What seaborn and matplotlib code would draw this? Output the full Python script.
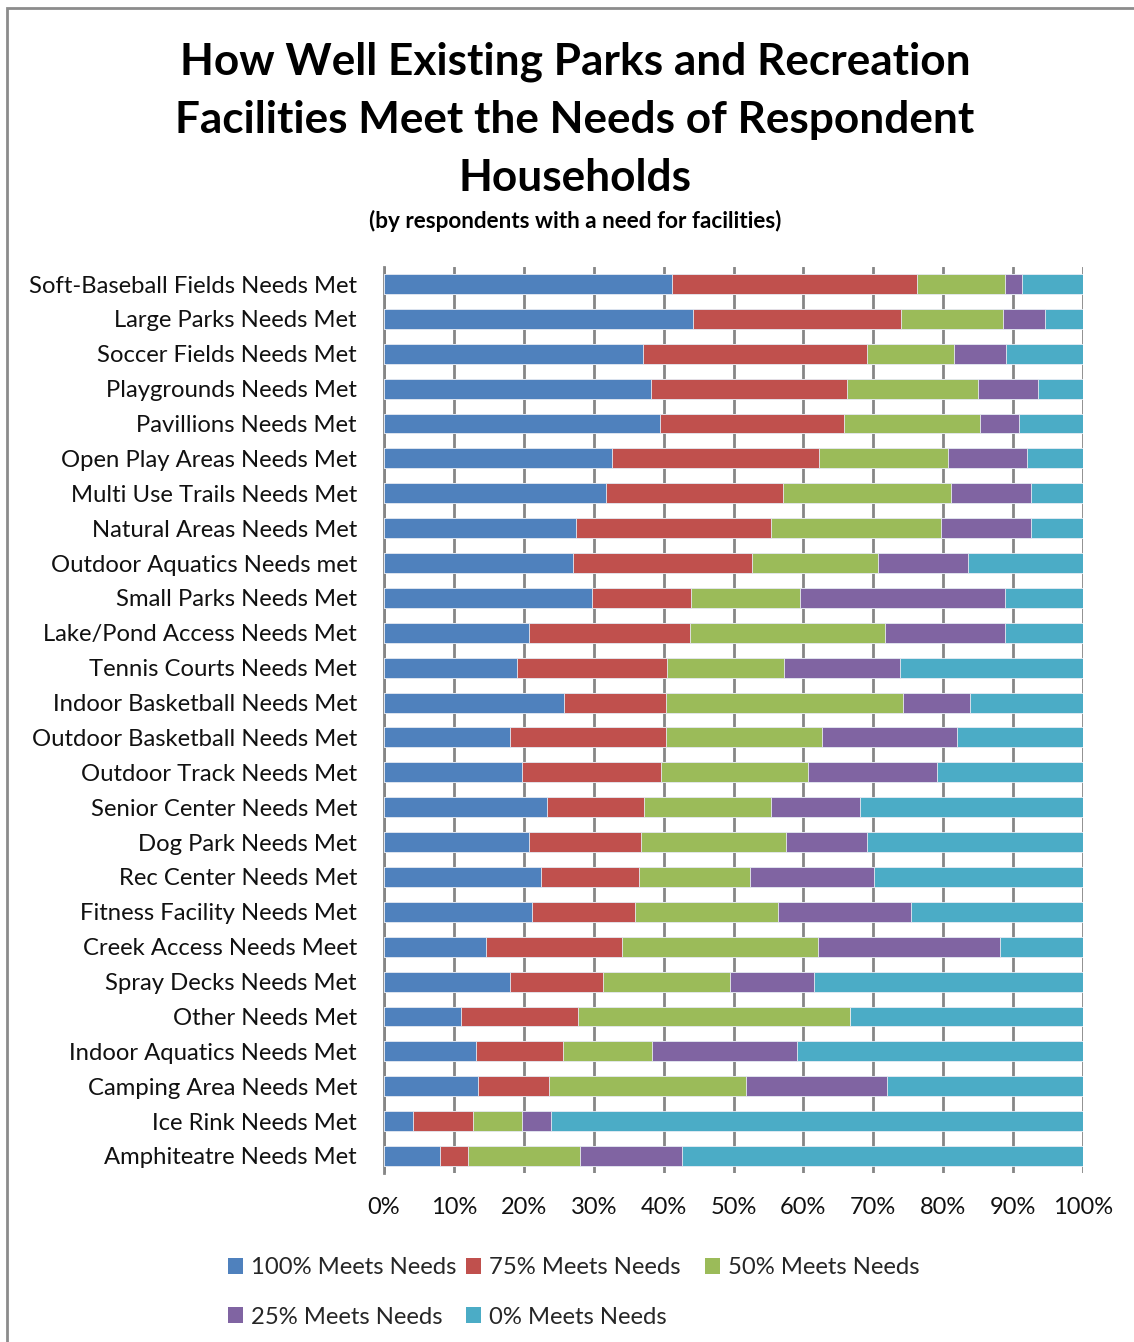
import numpy as np
import pandas as pd
import matplotlib
matplotlib.use("Agg")
import matplotlib.pyplot as plt
import seaborn as sns
from matplotlib.patches import Patch, Rectangle

# ---- data (percent of respondents) ----
facilities = [
    "Soft-Baseball Fields Needs Met", "Large Parks Needs Met", "Soccer Fields Needs Met",
    "Playgrounds Needs Met", "Pavillions Needs Met", "Open Play Areas Needs Met",
    "Multi Use Trails Needs Met", "Natural Areas Needs Met", "Outdoor Aquatics Needs met",
    "Small Parks Needs Met", "Lake/Pond Access Needs Met", "Tennis Courts Needs Met",
    "Indoor Basketball Needs Met", "Outdoor Basketball Needs Met", "Outdoor Track Needs Met",
    "Senior Center Needs Met", "Dog Park Needs Met", "Rec Center Needs Met",
    "Fitness Facility Needs Met", "Creek Access Needs Meet", "Spray Decks Needs Met",
    "Other Needs Met", "Indoor Aquatics Needs Met", "Camping Area Needs Met",
    "Ice Rink Needs Met", "Amphiteatre Needs Met",
]
meets_100 = [41.2, 44.2, 37.1, 38.2, 39.5, 32.6, 31.8, 27.5, 27.0, 29.8, 20.7, 19.0, 25.8,
             18.0, 19.7, 23.3, 20.7, 22.5, 21.2, 14.6, 18.0, 11.0, 13.2, 13.4, 4.1, 8.0]
meets_75 = [35.1, 29.8, 32.0, 28.0, 26.3, 29.6, 25.3, 27.9, 25.6, 14.1, 23.1, 21.5, 14.5,
            22.3, 19.9, 13.9, 16.1, 14.0, 14.7, 19.4, 13.3, 16.8, 12.4, 10.2, 8.6, 4.0]
meets_50 = [12.5, 14.6, 12.4, 18.8, 19.5, 18.5, 24.0, 24.3, 18.1, 15.6, 27.9, 16.7, 33.9,
            22.3, 21.0, 18.2, 20.7, 15.9, 20.5, 28.1, 18.2, 38.9, 12.7, 28.2, 7.0, 16.0]
meets_25 = [2.5, 6.0, 7.5, 8.6, 5.5, 11.3, 11.5, 12.9, 12.8, 29.3, 17.1, 16.6, 9.6,
            19.4, 18.5, 12.7, 11.6, 17.7, 19.0, 26.0, 12.0, 0.0, 20.8, 20.2, 4.2, 14.6]
meets_0 = [8.7, 5.4, 11.0, 6.4, 9.2, 8.0, 7.4, 7.4, 16.5, 11.2, 11.2, 26.2, 16.2,
           18.0, 20.9, 31.9, 30.9, 29.9, 24.6, 11.9, 38.5, 33.3, 40.9, 28.0, 76.1, 57.4]

series = ["100% Meets Needs", "75% Meets Needs", "50% Meets Needs",
          "25% Meets Needs", "0% Meets Needs"]
colors = ["#4F81BD", "#C0504D", "#9BBB59", "#8064A2", "#4BACC6"]

df = pd.DataFrame({"facility": facilities, series[0]: meets_100, series[1]: meets_75,
                   series[2]: meets_50, series[3]: meets_25, series[4]: meets_0})
vals = df[series].to_numpy()
df[series] = vals / vals.sum(axis=1, keepdims=True) * 100
cum = df[series].cumsum(axis=1)

sns.set_theme(style="white")
plt.rcParams["font.family"] = ["Lato", "DejaVu Sans"]

fig = plt.figure(figsize=(11.34, 13.42), dpi=100)
ax = fig.add_axes([384 / 1134, 1 - 1173.4 / 1342, 699 / 1134, 906.8 / 1342])

# stacked bars: draw cumulative totals, longest first
for name, col in reversed(list(zip(series, colors))):
    sns.barplot(x=cum[name], y=df["facility"], color=col, saturation=1, width=0.57,
                orient="h", ax=ax, zorder=3, edgecolor="#e8ecf4", linewidth=0.6)

ax.set_xlim(0, 100)
ax.set_xticks(range(0, 101, 10))
ax.set_xticklabels([f"{t}%" for t in range(0, 101, 10)], fontsize=17)
ax.tick_params(axis="x", length=0, pad=17)
ax.tick_params(axis="y", length=0, pad=19.5, labelsize=17.2)
ax.set_xlabel("")
ax.set_ylabel("")
ax.xaxis.grid(True, color="#868686", linewidth=2, zorder=0)
ax.set_axisbelow(True)
for s in ["top", "right", "bottom"]:
    ax.spines[s].set_visible(False)
ax.spines["left"].set_color("#868686")
ax.spines["left"].set_linewidth(2)
for lbl in ax.get_yticklabels() + ax.get_xticklabels():
    lbl.set_color("#111111")

# title block
title_lines = ["How Well Existing Parks and Recreation",
               "Facilities Meet the Needs of Respondent", "Households"]
for i, line in enumerate(title_lines):
    fig.text(575 / 1134, 1 - (62 + 58 * i) / 1342, line, ha="center", va="center",
             fontsize=31.8, fontweight="bold", color="black")
fig.text(575 / 1134, 1 - 221 / 1342, "(by respondents with a need for facilities)",
         ha="center", va="center", fontsize=16.2, fontweight="bold", color="black")

# legend: equal-width columns, 3 items on the first row, 2 on the second
handles = [Patch(facecolor=c, edgecolor="none") for c in colors]
columns = [[0, 3], [1, 4], [2]]
col_x = [216, 454, 693]
for idx, x0 in zip(columns, col_x):
    fig.legend([handles[i] for i in idx], [series[i] for i in idx],
               loc="upper left", bbox_to_anchor=(x0 / 1134, 1 - 1245 / 1342),
               frameon=False, fontsize=17.2, handlelength=0.65, handleheight=0.65,
               handletextpad=0.3, labelspacing=1.2, borderpad=0)

# outer frame of the chart area
fig.add_artist(Rectangle((7 / 1134, -0.1), 1.2, 1 - 8 / 1342 + 0.1,
                         transform=fig.transFigure, fill=False,
                         edgecolor="#8c8c8c", linewidth=2))

fig.savefig("out.png", dpi=100)
